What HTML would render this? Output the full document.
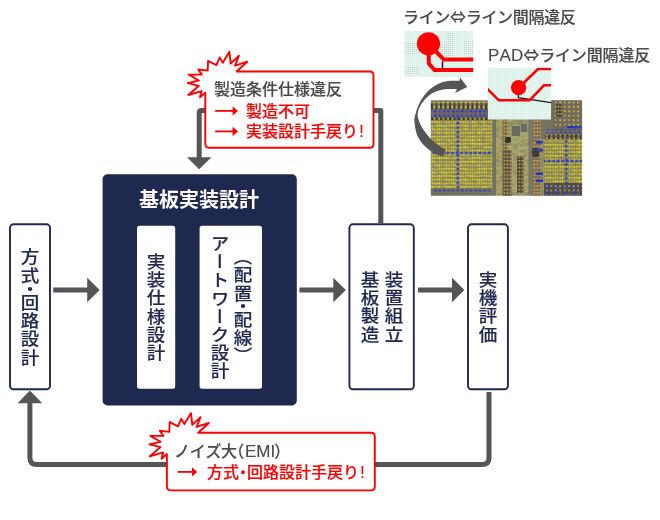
<!DOCTYPE html>
<html lang="ja">
<head>
<meta charset="utf-8">
<title>基板実装設計フロー</title>
<style>
html,body{margin:0;padding:0;background:#fff;}
body{width:660px;height:520px;position:relative;overflow:hidden;font-family:"Liberation Sans","Noto Sans CJK JP",sans-serif;}
#g{position:absolute;left:0;top:0;width:660px;height:520px;display:block;}
.t{position:absolute;white-space:nowrap;line-height:1;margin:0;padding:0;will-change:transform;text-spacing-trim:space-all;font-kerning:none;}
.h{font-size:16px;}
.gray{color:#4a4a4a;font-weight:500;-webkit-text-stroke:0.15px #4a4a4a;}
.red{color:#ff0000;font-weight:500;-webkit-text-stroke:0.15px #ff0000;}
.navy{color:#1f2950;-webkit-text-stroke:0.15px #1f2950;}
.v{writing-mode:vertical-rl;font-size:17.5px;letter-spacing:0.55px;font-weight:500;transform:scaleX(1.06);transform-origin:50% 50%;}
.ar{font-family:"Noto Sans CJK JP",sans-serif;}
.ex{margin-left:1.3px;}
.lat{font-size:17px;letter-spacing:0.1px;}
.dot{margin:0 -4px;}
.pl{margin-left:-8.7px;margin-right:1.2px;}
.em{font-size:17px;letter-spacing:0;}
.pr{margin-left:-1.1px;margin-right:-7px;}
.vdot{margin:-4.65px 0;}
.vpl{margin-top:-11px;}
.vpr{margin-bottom:-11px;}
</style>
</head>
<body>
<svg id="g" width="660" height="520" viewBox="0 0 660 520">
  <defs>
    <pattern id="pgrid" x="431.2" y="120.4" width="2.36" height="3.6" patternUnits="userSpaceOnUse">
      <rect width="2.36" height="3.6" fill="#8a8860"/>
      <rect x="0.55" y="0" width="1.2" height="3.6" fill="#a09a56"/>
      <rect x="0" y="1.15" width="2.36" height="1.1" fill="#a8a04e"/>
      <rect x="0.55" y="0.95" width="1.2" height="1.5" fill="#fff010"/>
    </pattern>
    <pattern id="pgrid2" x="544.6" y="139.4" width="2.4" height="3.66" patternUnits="userSpaceOnUse">
      <rect width="2.4" height="3.66" fill="#86845c"/>
      <rect x="0.55" y="0" width="1.2" height="3.66" fill="#9c9652"/>
      <rect x="0" y="1.15" width="2.4" height="1.1" fill="#a49c4a"/>
      <rect x="0.55" y="0.95" width="1.2" height="1.5" fill="#fff010"/>
    </pattern>
    <pattern id="pblue" x="433.2" y="109.3" width="4.5" height="4.4" patternUnits="userSpaceOnUse">
      <rect x="0.5" y="0.5" width="2.9" height="2.9" rx="1.3" fill="#2c3cc8"/>
    </pattern>
    <pattern id="pblue2" x="546" y="184.6" width="9" height="5.2" patternUnits="userSpaceOnUse">
      <rect x="0.5" y="0.5" width="3.4" height="3.2" rx="1.3" fill="#2c3cc8"/>
    </pattern>
    <pattern id="pbv" x="456.5" y="121" width="2.8" height="4.6" patternUnits="userSpaceOnUse">
      <rect x="0" y="0.4" width="2.8" height="3.2" rx="1.3" fill="#2c3cc8"/>
    </pattern>
    <pattern id="pbh" x="432" y="151.6" width="4.6" height="2.8" patternUnits="userSpaceOnUse">
      <rect x="0.4" y="0" width="3.2" height="2.8" rx="1.3" fill="#2c3cc8"/>
    </pattern>
    <pattern id="pydot" x="432.4" y="100.8" width="4.5" height="4.4" patternUnits="userSpaceOnUse">
      <rect x="1" y="0.9" width="1.6" height="1.6" fill="#e8d62a"/>
    </pattern>
    <pattern id="pydot2" x="502.8" y="119.5" width="3" height="3.6" patternUnits="userSpaceOnUse">
      <rect x="0.8" y="0.9" width="1.4" height="1.4" fill="#e8d62a"/>
    </pattern>
    <pattern id="pdark" x="431" y="103" width="4.5" height="6" patternUnits="userSpaceOnUse">
      <rect x="0" y="0" width="2" height="6" fill="#3c382e"/>
      <rect x="2.2" y="0" width="2.3" height="6" fill="#8b7d5e"/>
    </pattern>
    <pattern id="pdark2" x="431" y="117" width="4.5" height="4" patternUnits="userSpaceOnUse">
      <rect x="0" y="0" width="2.2" height="4" fill="#3c382e"/>
      <rect x="2.9" y="0.8" width="1.4" height="1.6" fill="#e8d62a"/>
    </pattern>
    <pattern id="pmint" x="404" y="31" width="2" height="2" patternUnits="userSpaceOnUse">
      <rect width="2" height="2" fill="#e2f6ef"/>
      <rect x="0" y="0" width="1" height="1" fill="#d9ede7"/>
    </pattern>
    <pattern id="pgray" x="404" y="31" width="2" height="2" patternUnits="userSpaceOnUse">
      <rect x="0" y="0" width="1.1" height="1.1" fill="#b9c4c0"/>
    </pattern>
    <filter id="soft" x="-2%" y="-2%" width="104%" height="104%"><feGaussianBlur stdDeviation="0.33"/></filter>
    <filter id="noise" x="0" y="0" width="100%" height="100%">
      <feTurbulence type="fractalNoise" baseFrequency="0.22 0.3" numOctaves="3" seed="11"/>
      <feColorMatrix type="matrix" values="0 0 0 0 0.16  0 0 0 0 0.15  0 0 0 0 0.14  3.2 1.6 0 0 -2.1"/>
    </filter>
    <clipPath id="cpcb"><rect x="430.8" y="100.2" width="151.3" height="95.6"/></clipPath>
    <clipPath id="cim1"><rect x="404.2" y="31" width="69" height="46"/></clipPath>
    <clipPath id="cim2"><rect x="488" y="67.7" width="63" height="51.7"/></clipPath>
  </defs>

  <!-- board photo -->
  <g clip-path="url(#cpcb)">
    <g filter="url(#soft)">
    <rect x="429" y="98" width="156" height="100" fill="#8a855a"/>
    <rect x="429" y="98" width="64" height="22.3" fill="#766d58"/>
    <rect x="431" y="100" width="61" height="3" fill="#8d7f62"/>
    <rect x="431" y="103.4" width="61" height="6" fill="url(#pdark)"/>
    <rect x="431" y="100.6" width="61" height="9" fill="url(#pydot)"/>
    <rect x="431" y="109.3" width="61" height="8.8" fill="url(#pblue)"/>
    <rect x="431" y="117.2" width="61" height="3.2" fill="url(#pdark2)"/>
    <rect x="431" y="120.4" width="61.5" height="67.6" fill="url(#pgrid)"/>
    <rect x="456.5" y="117" width="2.7" height="73" fill="url(#pbv)"/>
    <rect x="431" y="151.6" width="61.5" height="2.8" fill="url(#pbh)"/>
    <rect x="431" y="188" width="61.5" height="8" fill="#77745a"/>
    <rect x="433" y="189.3" width="58" height="4.3" fill="url(#pblue)" opacity=".85"/>
    <rect x="492.5" y="119" width="51.5" height="78" fill="#98966a"/>
    <rect x="492.5" y="119" width="3.5" height="78" fill="#6f7560"/>
    <rect x="496" y="119" width="6.5" height="78" fill="#aaa460"/>
    <rect x="502.5" y="119" width="5" height="32" fill="#7b6856"/>
    <rect x="502.5" y="150" width="9" height="46" fill="#5e5048"/>
    <rect x="502.5" y="119" width="9" height="78" fill="url(#pydot2)"/>
    <rect x="505" y="137" width="6" height="6" rx="2" fill="#2b2620"/>
    <rect x="511.5" y="124" width="17" height="68" fill="#a8a86c"/>
    <rect x="517" y="156" width="6.5" height="37" fill="#4e433c"/>
    <rect x="517" y="156" width="6.5" height="37" fill="url(#pydot2)"/>
    <rect x="512" y="126" width="8" height="10" fill="#6a6a66"/>
    <rect x="521" y="124" width="6" height="8" fill="#6a6a66"/>
    <rect x="528.5" y="119" width="4.5" height="78" fill="#7d7a64"/>
    <rect x="533" y="119" width="8" height="78" fill="#85695a"/>
    <rect x="533" y="119" width="8" height="78" fill="url(#pydot2)"/>
    <rect x="532" y="148" width="7" height="9" rx="2" fill="#3c342c"/>
    <rect x="536" y="141" width="7" height="2.6" fill="#2433c8"/>
    <rect x="536" y="149" width="7" height="2.6" fill="#2433c8"/>
    <rect x="536" y="172.5" width="7" height="2.6" fill="#2433c8"/>
    <rect x="536" y="179.5" width="7" height="2.6" fill="#2433c8"/>
    <rect x="551.5" y="98" width="32" height="41.5" fill="#74695a"/>
    <rect x="541" y="119" width="12" height="20.5" fill="#7a7460"/>
    <rect x="553" y="100.5" width="29" height="26" fill="url(#pydot)"/>
    <rect x="556" y="103" width="6" height="14" fill="#4a4038"/>
    <rect x="556" y="103" width="6" height="14" fill="url(#pydot2)"/>
    <rect x="567" y="126" width="15" height="2.2" fill="#2433c8"/>
    <rect x="546" y="129" width="36" height="4.2" fill="url(#pblue)"/>
    <rect x="545" y="134.5" width="37" height="4.5" fill="url(#pdark2)"/>
    <rect x="544" y="139.2" width="38.5" height="44" fill="url(#pgrid2)"/>
    <rect x="564.8" y="138" width="2.8" height="46" fill="url(#pbv)"/>
    <rect x="544" y="159.6" width="38.5" height="2.8" fill="url(#pbh)"/>
    <rect x="544" y="183" width="38.5" height="13" fill="#504a44"/>
    <rect x="545.5" y="184.3" width="37" height="10" fill="url(#pblue2)"/>
    <rect x="545.5" y="184.3" width="37" height="10" fill="url(#pydot)" opacity=".8"/>
    </g>
    <rect x="429" y="98" width="156" height="100" filter="url(#noise)" opacity=".4"/>
    </g>

  <!-- curved arrow -->
  <path d="M459.5 80.8L460 77.6L467.3 87L455 92.9L457 89C454.7 89.1 447.3 88.7 443.0 89.5C438.7 90.3 434.5 91.8 431.0 94.0C427.5 96.2 424.2 100.0 422.0 103.0C419.8 106.0 418.6 109.3 418.0 112.0C417.4 114.7 417.5 116.2 418.3 119.0C419.1 121.8 420.6 125.3 423.0 129.0C425.4 132.7 429.2 137.5 433.0 141.0C436.8 144.5 443.7 148.5 445.8 150.0L442.5 156.8C440.1 155.5 432.1 152.3 428.0 149.0C423.9 145.7 420.2 141.5 418.0 137.0C415.8 132.5 414.9 125.8 414.5 122.0C414.1 118.2 414.6 117.3 415.5 114.0C416.4 110.7 417.9 105.8 420.0 102.0C422.1 98.2 425.0 94.0 428.0 91.0C431.0 88.0 434.7 85.7 438.0 84.0C441.3 82.3 444.4 81.5 448.0 81.0C451.6 80.5 457.6 80.8 459.5 80.8Z" fill="#555"/>

  <!-- violation thumbnails -->
  <g clip-path="url(#cim1)">
    <rect x="404" y="31" width="70" height="46" fill="url(#pmint)"/>
    <g opacity=".75">
      <rect x="406" y="42" width="14" height="12" fill="url(#pgray)"/>
      <rect x="406" y="66" width="14" height="9" fill="url(#pgray)"/>
      <rect x="446" y="33" width="8" height="24" fill="url(#pgray)"/>
      <rect x="464" y="40" width="9" height="14" fill="url(#pgray)"/>
      <rect x="440" y="44" width="12" height="12" fill="url(#pgray)"/>
    </g>
    <path d="M442.5 61.3V68.4" stroke="#14143a" stroke-width="1.5" fill="none"/>
    <path d="M435.5 51L443.8 59.6H474" stroke="#ff0000" stroke-width="4" fill="none"/>
    <path d="M428.8 52V63.5L434.6 70H474" stroke="#ff0000" stroke-width="4" fill="none"/>
    <circle cx="428.5" cy="43.8" r="11.6" fill="#ff0000"/>
  </g>
  <g clip-path="url(#cim2)">
    <rect x="488" y="67" width="64" height="53" fill="url(#pmint)"/>
    <path d="M518.4 93V97.7L552 102.7" stroke="#1a1a1a" stroke-width="1.3" fill="none"/>
    <path d="M520 86.5L538 69H552" stroke="#ff0000" stroke-width="2.6" fill="none"/>
    <path d="M487 88.5L498.8 100.3H529.6L544 85.3H552" stroke="#ff0000" stroke-width="2.6" fill="none"/>
    <circle cx="518.6" cy="87.7" r="7.6" fill="#ff0000"/>
  </g>

  <!-- flow boxes -->
  <rect x="102.6" y="174.2" width="194.2" height="231.2" rx="5" fill="#1f2950"/>
  <rect x="137" y="225.7" width="38.2" height="163" rx="2.5" fill="#fff"/>
  <rect x="199.6" y="225.7" width="62.4" height="163" rx="2.5" fill="#fff"/>
  <rect x="10" y="224.3" width="40" height="165" rx="3.5" fill="#fff" stroke="#1f2950" stroke-width="1.9"/>
  <rect x="349.4" y="224.3" width="64.4" height="165" rx="3.5" fill="#fff" stroke="#1f2950" stroke-width="1.9"/>
  <rect x="468" y="224.3" width="39.9" height="165" rx="3.5" fill="#fff" stroke="#1f2950" stroke-width="1.9"/>

  <!-- gray arrows -->
  <g fill="#555">
    <path d="M53.2 287.6H87.2V277.7L99.7 290L87.2 302.3V292.4H53.2Z"/>
    <path d="M299.4 287.6H333.3V277.7L345.9 290L333.3 302.3V292.4H299.4Z"/>
    <path d="M417.9 287.6H452V277.8L464.4 290L452 302.2V292.4H417.9Z"/>
  </g>
  <g fill="none" stroke="#555" stroke-width="5" stroke-linejoin="round">
    <path d="M206 110.6H201.5Q199.2 110.6 199.2 113V158"/>
    <path d="M373.5 110.6H380.8V223.5"/>
    <path d="M489 392V457.5Q489 464.6 482 464.6H375"/>
    <path d="M166 464.6H37Q29.9 464.6 29.9 457.5V402"/>
  </g>
  <g fill="#555">
    <path d="M187 157.3H211.4L199.2 169.3Z"/>
    <path d="M17.6 403.2H42.2L29.9 390.6Z"/>
  </g>

  <!-- callouts -->
  <g fill="#fff" stroke="#ff0000" stroke-width="1.9" stroke-linejoin="round">
    <path id="burst1" d="M236.6 71.5L247.2 61.7L235 65.6L238.9 55.8L230.7 63.5L229.4 51.8L222.8 62.8L219.6 57.5L216.4 65.1L208.1 60.8L207.7 70.6L198.2 69.5L201.9 74.6L188.8 74.6L198.9 80.5L187.8 83.1L198.9 85.8L188.3 95L201.6 91.1L200 97.4L205.3 92.7V144Q205.3 147.8 209.1 147.8H369.7Q373.5 147.8 373.5 144V75.3Q373.5 71.5 369.7 71.5Z"/>
    <path d="M198.2 432.8L208.8 423L196.6 426.9L200.5 417.1L192.3 424.8L191 413.1L184.4 424.1L181.2 418.8L178 426.4L169.7 422.1L169.3 431.9L159.8 430.8L163.5 435.9L150.4 435.9L160.5 441.8L149.4 444.4L160.5 447.1L149.9 456.3L163.2 452.4L161.6 458.7L166.9 454V486.6Q166.9 490.4 170.7 490.4H371Q374.8 490.4 374.8 486.6V436.6Q374.8 432.8 371 432.8Z"/>
  </g>
  <g stroke="#ff0000" stroke-width="1.8" fill="#ff0000">
    <path d="M215.2 110.9H233"/><path d="M232.6 106.3L238 110.9L232.6 115.5Z" stroke="none"/>
    <path d="M215.2 131.4H233"/><path d="M232.6 126.8L238 131.4L232.6 136Z" stroke="none"/>
    <path d="M177.7 471.9H192.5"/><path d="M192 467.2L197.3 471.9L192 476.6Z" stroke="none"/>
  </g>
</svg>

<div class="t h" style="left:138.8px;top:189.8px;font-size:20px;font-weight:700;color:#fff;">基板実装設計</div>
<div class="t h gray" style="left:213.5px;top:82.4px;">製造条件仕様違反</div>
<div class="t h red" style="left:245.9px;top:103.5px;">製造不可</div>
<div class="t h red" style="left:245.9px;top:124.2px;">実装設計手戻り<span class="ex">!</span></div>
<div class="t h gray" style="left:173.6px;top:442.5px;letter-spacing:-0.3px;">ノイズ大<span class="pl">（</span><span class="em">EMI</span><span class="pr">）</span></div>
<div class="t h red" style="left:207px;top:464.6px;">方式<span class="dot">・</span>回路設計手戻り<span class="ex">!</span></div>
<div class="t h gray" style="left:402.9px;top:8px;letter-spacing:-0.32px;">ライン<span class="ar">⇔</span>ライン間隔違反</div>
<div class="t h gray" style="left:487.6px;top:45.8px;letter-spacing:-0.15px;"><span class="lat">PAD</span><span class="ar">⇔</span>ライン間隔違反</div>

<div class="t v navy" style="left:19.2px;top:248.4px;letter-spacing:0.85px;">方式<span class="vdot" style="margin:-3.9px 0 -6px 0;">・</span>回路設計</div>
<div class="t v navy" style="left:144.9px;top:253px;">実装仕様設計</div>
<div class="t v navy" style="left:208.6px;top:235px;">アートワーク設計</div>
<div class="t v navy" style="left:232.3px;top:259.2px;"><span class="vpl">（</span>配置<span class="vdot">・</span>配線<span class="vpr">）</span></div>
<div class="t v navy" style="left:359.4px;top:270.5px;">基板製造</div>
<div class="t v navy" style="left:382.8px;top:270.5px;">装置組立</div>
<div class="t v navy" style="left:476.5px;top:270.6px;">実機評価</div>
</body>
</html>
